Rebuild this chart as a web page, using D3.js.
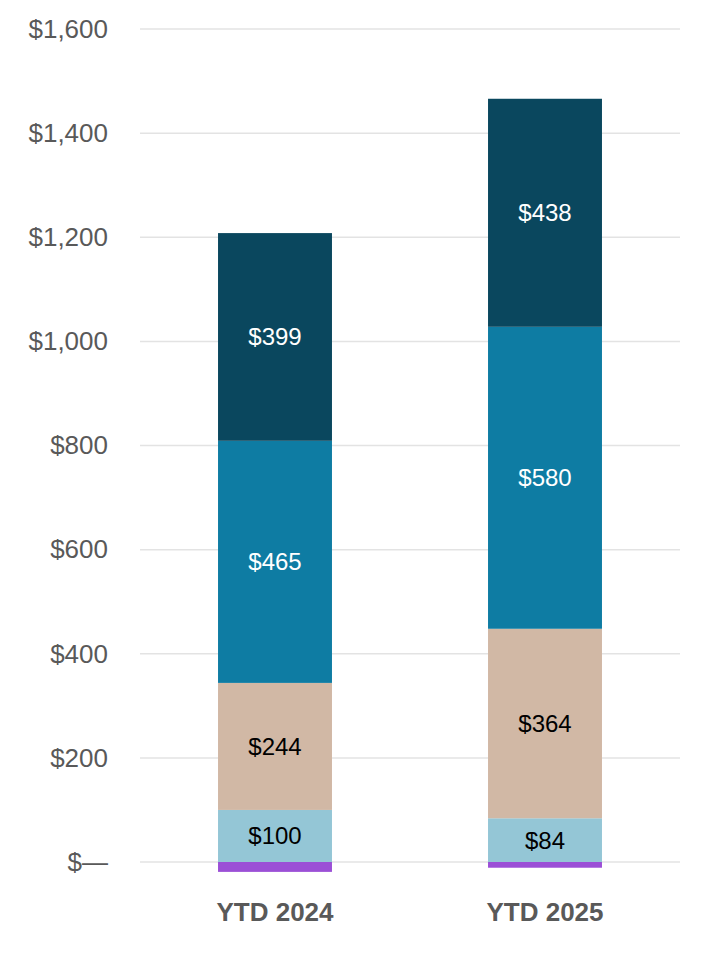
<!DOCTYPE html>
<html>
<head>
<meta charset="utf-8">
<script src="https://cdn.jsdelivr.net/npm/d3@7"></script>
<style>
  body { margin: 0; background: #fff; }
  text { font-family: "Liberation Sans", Arial, sans-serif; }
</style>
</head>
<body>
<svg></svg>
<script>
// data
var periods = ["YTD 2024", "YTD 2025"];
var seriesNames = ["purple", "light", "beige", "mid", "dark"];
var purpleVals = [-19, -11];
var lightVals = [100, 84];
var beigeVals = [244, 364];
var midVals = [465, 580];
var darkVals = [399, 438];
var yTicks = [0, 200, 400, 600, 800, 1000, 1200, 1400, 1600];

var colors = {
  purple: "#9b4fd6",
  light: "#94c6d6",
  beige: "#d1b8a5",
  mid: "#0e7ca3",
  dark: "#0a475e"
};
var labelColors = { light: "#000", beige: "#000", mid: "#fff", dark: "#fff" };

var screen = { width: 710, height: 960 };
var margins = { top: 29, left: 140, right: 30, bottom: 98 };
var height = screen.height - margins.top - margins.bottom;

var svg = d3.select("svg")
  .attr("width", screen.width)
  .attr("height", screen.height);

var xScale = d3.scaleBand()
  .domain(periods)
  .range([margins.left, screen.width - margins.right])
  .paddingInner(0.578)
  .paddingOuter(0.289);

var yScale = d3.scaleLinear()
  .domain([0, 1600])
  .range([margins.top + height, margins.top]);

// gridlines
svg.append("g")
  .selectAll("line")
  .data(yTicks)
  .enter().append("line")
  .attr("x1", margins.left)
  .attr("x2", screen.width - margins.right)
  .attr("y1", function(d) { return yScale(d); })
  .attr("y2", function(d) { return yScale(d); })
  .attr("stroke", "#e3e3e3")
  .attr("stroke-width", 1.5);

// y axis labels
var yAxis = d3.axisLeft(yScale)
  .tickValues(yTicks)
  .tickSize(0)
  .tickPadding(0)
  .tickFormat(function(d) { return d === 0 ? "$\u2014" : "$" + d3.format(",")(d); });
var yG = svg.append("g")
  .attr("transform", "translate(108,0)")
  .call(yAxis);
yG.select(".domain").remove();
yG.selectAll("text")
  .attr("font-size", 26)
  .attr("fill", "#595959")
  .style("font-family", "'Liberation Sans', Arial, sans-serif");

// build stacked table
var table = periods.map(function(p, i) {
  return {
    period: p,
    purple: purpleVals[i],
    light: lightVals[i],
    beige: beigeVals[i],
    mid: midVals[i],
    dark: darkVals[i]
  };
});

var stack = d3.stack()
  .keys(seriesNames)
  .offset(d3.stackOffsetDiverging);
var layers = stack(table);

var layerG = svg.append("g")
  .selectAll("g")
  .data(layers)
  .enter().append("g")
  .attr("fill", function(d) { return colors[d.key]; });

layerG.selectAll("rect")
  .data(function(d) { return d; })
  .enter().append("rect")
  .attr("x", function(d) { return xScale(d.data.period); })
  .attr("width", xScale.bandwidth())
  .attr("y", function(d) { return yScale(Math.max(d[0], d[1])); })
  .attr("height", function(d) { return Math.abs(yScale(d[0]) - yScale(d[1])); });

// value labels
layers.forEach(function(layer) {
  if (layer.key === "purple") return;
  svg.append("g")
    .selectAll("text")
    .data(layer)
    .enter().append("text")
    .attr("x", function(d) { return xScale(d.data.period) + xScale.bandwidth() / 2; })
    .attr("y", function(d) { return yScale((d[0] + d[1]) / 2); })
    .attr("dy", "0.35em")
    .attr("text-anchor", "middle")
    .attr("font-size", 24)
    .attr("fill", labelColors[layer.key])
    .text(function(d) { return "$" + d.data[layer.key]; });
});

// x axis labels
var xAxis = d3.axisBottom(xScale).tickSize(0).tickPadding(0);
var xG = svg.append("g")
  .attr("transform", "translate(0,903)")
  .call(xAxis);
xG.select(".domain").remove();
xG.selectAll("text")
  .attr("font-size", 26)
  .attr("font-weight", "bold")
  .attr("fill", "#595959")
  .style("font-family", "'Liberation Sans', Arial, sans-serif");
</script>
</body>
</html>
